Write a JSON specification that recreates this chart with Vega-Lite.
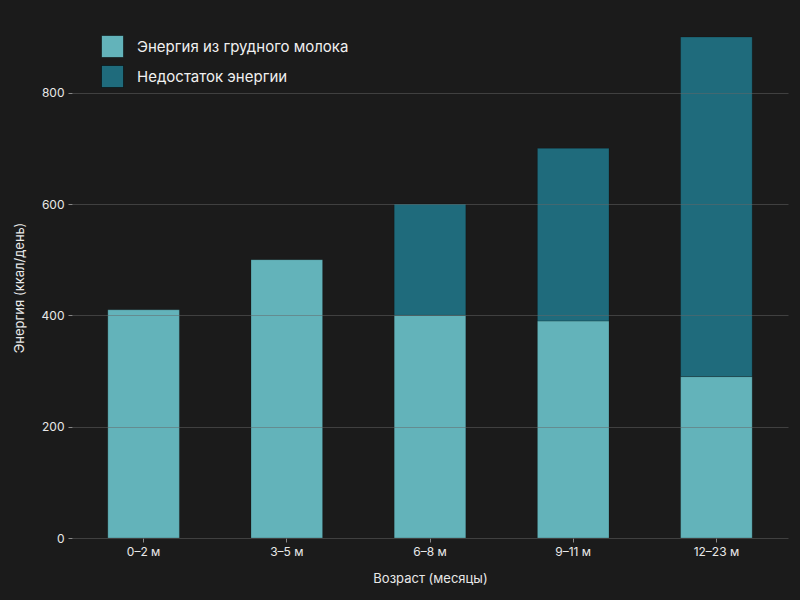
{
  "$schema": "https://vega.github.io/schema/vega-lite/v6.json",
  "autosize": "none",
  "width": 716,
  "height": 501,
  "padding": {"left": 72, "top": 37, "right": 12, "bottom": 62},
  "background": "#1b1b1b",
  "data": {
    "values": [
      {"age": "0–2 м", "type": "Энергия из грудного молока", "kcal": 410},
      {"age": "3–5 м", "type": "Энергия из грудного молока", "kcal": 500},
      {"age": "6–8 м", "type": "Энергия из грудного молока", "kcal": 400},
      {"age": "6–8 м", "type": "Недостаток энергии", "kcal": 200},
      {"age": "9–11 м", "type": "Энергия из грудного молока", "kcal": 390},
      {"age": "9–11 м", "type": "Недостаток энергии", "kcal": 310},
      {"age": "12–23 м", "type": "Энергия из грудного молока", "kcal": 290},
      {"age": "12–23 м", "type": "Недостаток энергии", "kcal": 610}
    ]
  },
  "mark": {"type": "bar", "stroke": "#000000", "strokeOpacity": 0.2, "strokeWidth": 1},
  "encoding": {
    "x": {
      "field": "age",
      "type": "nominal",
      "sort": ["0–2 м", "3–5 м", "6–8 м", "9–11 м", "12–23 м"],
      "title": "Возраст (месяцы)",
      "scale": {"paddingInner": 0.5, "paddingOuter": 0.25},
      "axis": {"labelAngle": 0, "tickSize": 4, "labelPadding": 4, "titlePadding": 15}
    },
    "y": {
      "field": "kcal",
      "type": "quantitative",
      "stack": "zero",
      "title": "Энергия (ккал/день)",
      "scale": {"domain": [0, 900], "nice": false},
      "axis": {"values": [0, 200, 400, 600, 800], "tickSize": 4, "labelPadding": 4, "titlePadding": 15, "grid": true, "zindex": 1}
    },
    "color": {
      "field": "type",
      "type": "nominal",
      "scale": {
        "domain": ["Энергия из грудного молока", "Недостаток энергии"],
        "range": ["#63b3ba", "#1f6b7c"]
      },
      "legend": {
        "title": null,
        "orient": "none",
        "legendX": 29,
        "legendY": -2,
        "symbolType": "square",
        "symbolSize": 484,
        "symbolStrokeColor": "#000000",
        "symbolStrokeWidth": 0.5,
        "labelFontSize": 15,
        "labelOffset": 13,
        "labelLimit": 400,
        "rowPadding": 5,
        "labelColor": "#f0f0f0"
      }
    },
    "order": {"field": "type", "sort": "descending"}
  },
  "config": {
    "font": "Inter",
    "view": {"stroke": null},
    "axis": {
      "domain": false,
      "labelColor": "#e8e8e8",
      "labelFontSize": 12,
      "titleColor": "#e8e8e8",
      "titleFontSize": 13,
      "titleFontWeight": "normal",
      "tickColor": "#888888",
      "gridColor": "#666666",
      "gridOpacity": 0.5,
      "gridWidth": 1
    },
    "legend": {"labelFont": "Inter"}
  }
}
